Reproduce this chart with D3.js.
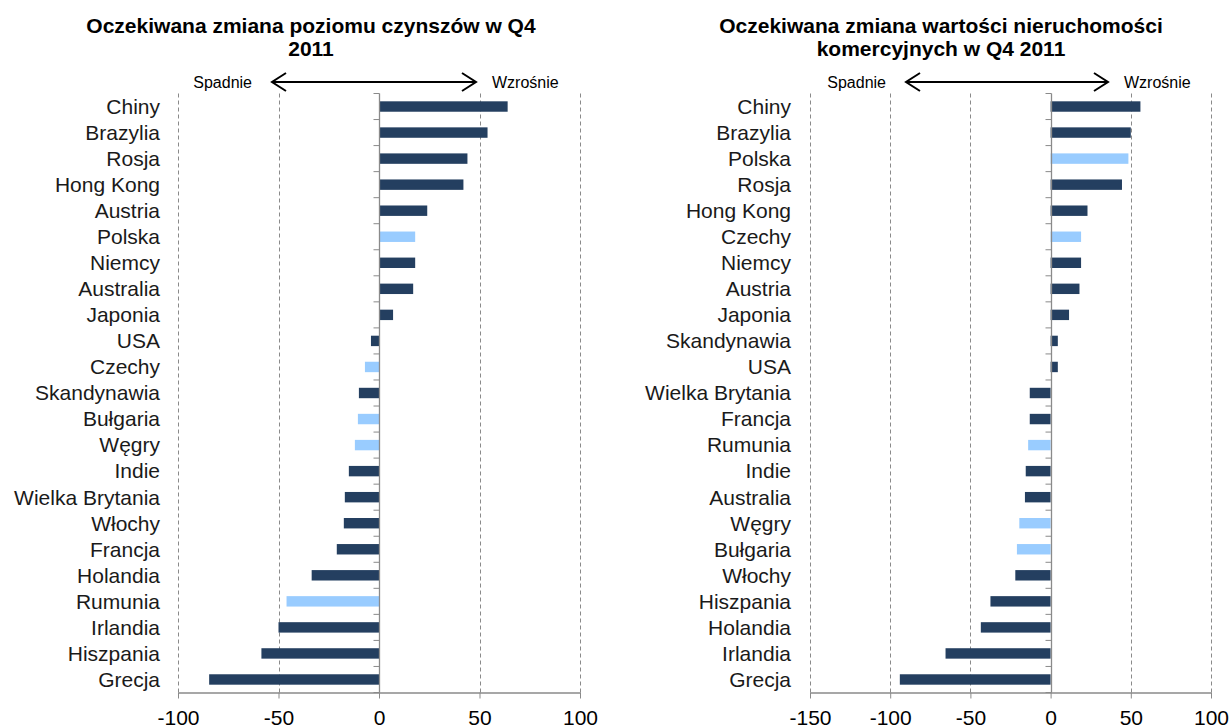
<html>
  <head>
    <title>Oczekiwana zmiana Q4 2011</title>
    <script src="https://d3js.org/d3.v7.min.js"></script>
    <style>
      body { margin: 0; background: #fff; }
      text { font-family: "Liberation Sans", Arial, sans-serif; }
    </style>
  </head>
  <body>
    <div id="wrapper"></div>
    <script>
      // left panel: rents
      var rentCountries = ["Chiny", "Brazylia", "Rosja", "Hong Kong", "Austria", "Polska", "Niemcy",
        "Australia", "Japonia", "USA", "Czechy", "Skandynawia", "Bułgaria", "Węgry", "Indie",
        "Wielka Brytania", "Włochy", "Francja", "Holandia", "Rumunia", "Irlandia", "Hiszpania", "Grecja"];
      var rentValues = [64, 54, 44, 42, 24, 18, 18, 17, 7, -4, -7, -10, -10.5, -12, -15,
        -17, -17.5, -21, -33.5, -46, -50, -58.5, -84.5];
      var rentTicks = [-100, -50, 0, 50, 100];

      // right panel: commercial property values
      var valueCountries = ["Chiny", "Brazylia", "Polska", "Rosja", "Hong Kong", "Czechy", "Niemcy",
        "Austria", "Japonia", "Skandynawia", "USA", "Wielka Brytania", "Francja", "Rumunia", "Indie",
        "Australia", "Węgry", "Bułgaria", "Włochy", "Hiszpania", "Holandia", "Irlandia", "Grecja"];
      var valueValues = [56, 50, 48.5, 44.5, 23, 19, 19, 18, 11.5, 4.5, 4.5, -13, -13, -14, -15.5,
        -16, -19.5, -21, -22, -37.5, -43.5, -65.5, -94];
      var valueTicks = [-150, -100, -50, 0, 50, 100];

      // CEE countries drawn in light blue
      var highlighted = ["Polska", "Czechy", "Bułgaria", "Węgry", "Rumunia"];

      var darkBlue = "#243f60";
      var lightBlue = "#99ccff";
      var axisGrey = "#8a8a8a";

      var plotTop = 93.5;
      var plotBottom = 692.5;

      var svg = d3.select("#wrapper").append("svg")
        .attr("width", 1230)
        .attr("height", 726);

      function drawPanel(p) {
        var x = d3.scaleLinear().domain([p.ticks[0], p.ticks[p.ticks.length - 1]]).range(p.xRange);
        var y = d3.scaleBand().domain(p.countries).range([plotTop, plotBottom])
          .paddingInner(0.6).paddingOuter(0.3);
        var g = svg.append("g");

        // dashed gridlines
        g.selectAll("line.grid").data(p.ticks.filter(function(t) { return t != 0; }))
          .enter().append("line")
          .attr("x1", function(t) { return Math.round(x(t)) + 0.5; })
          .attr("x2", function(t) { return Math.round(x(t)) + 0.5; })
          .attr("y1", plotTop)
          .attr("y2", plotBottom)
          .attr("stroke", axisGrey)
          .attr("stroke-dasharray", "4,3");

        // bars
        g.selectAll("rect").data(p.values)
          .enter().append("rect")
          .attr("x", function(v) { return x(Math.min(0, v)); })
          .attr("width", function(v) { return Math.abs(x(v) - x(0)); })
          .attr("y", function(v, i) { return y(p.countries[i]); })
          .attr("height", y.bandwidth())
          .attr("fill", function(v, i) {
            return highlighted.indexOf(p.countries[i]) >= 0 ? lightBlue : darkBlue;
          });

        // vertical axis at zero with category ticks
        var x0 = Math.round(x(0)) + 0.5;
        g.append("line")
          .attr("x1", x0).attr("x2", x0)
          .attr("y1", plotTop).attr("y2", plotBottom)
          .attr("stroke", axisGrey).attr("stroke-width", 1.3);
        g.selectAll("line.cat").data(d3.range(p.countries.length + 1))
          .enter().append("line")
          .attr("x1", x0 - 6).attr("x2", x0)
          .attr("y1", function(i) { return plotTop + i * y.step(); })
          .attr("y2", function(i) { return plotTop + i * y.step(); })
          .attr("stroke", axisGrey);

        // bottom axis, plain hyphen for negatives like the original
        var axis = g.append("g")
          .attr("transform", "translate(0," + plotBottom + ")")
          .call(d3.axisBottom(x).tickValues(p.ticks).tickSize(6).tickSizeOuter(0).tickPadding(12)
            .tickFormat(function(d) { return String(d); }));
        axis.select(".domain").attr("stroke", axisGrey).attr("stroke-width", 1.3);
        axis.selectAll(".tick line").attr("stroke", axisGrey);
        axis.selectAll(".tick text")
          .attr("fill", "#000")
          .style("font-size", "21px")
          .style("font-family", "'Liberation Sans', Arial, sans-serif");

        // category labels
        g.selectAll("text.cat").data(p.countries)
          .enter().append("text")
          .attr("x", p.labelX)
          .attr("y", function(c) { return y(c) + y.bandwidth() / 2; })
          .attr("dy", "0.35em")
          .attr("text-anchor", "end")
          .attr("fill", "#1a1a1a")
          .style("font-size", "21px")
          .text(function(c) { return c; });

        // title
        g.selectAll("text.title").data(p.title)
          .enter().append("text")
          .attr("x", p.titleX)
          .attr("y", function(t, i) { return 33 + i * 23; })
          .attr("text-anchor", "middle")
          .style("font-size", "21px")
          .style("font-weight", "bold")
          .text(function(t) { return t; });

        // direction arrow
        var ay = 82;
        g.append("text").attr("x", p.arrow[0] - 20).attr("y", ay).attr("dy", "0.35em")
          .attr("text-anchor", "end").style("font-size", "16px").text("Spadnie");
        g.append("text").attr("x", p.arrow[1] + 16).attr("y", ay).attr("dy", "0.35em")
          .style("font-size", "16px").text("Wzrośnie");
        var a = p.arrow[0], b = p.arrow[1];
        g.append("path")
          .attr("d", "M" + a + "," + ay + "L" + b + "," + ay +
                     "M" + (a + 14) + "," + (ay - 9) + "L" + a + "," + ay + "L" + (a + 14) + "," + (ay + 9) +
                     "M" + (b - 14) + "," + (ay - 9) + "L" + b + "," + ay + "L" + (b - 14) + "," + (ay + 9))
          .attr("fill", "none")
          .attr("stroke", "#000")
          .attr("stroke-width", 2);
      }

      drawPanel({
        countries: rentCountries,
        values: rentValues,
        ticks: rentTicks,
        xRange: [178, 580],
        labelX: 160,
        title: ["Oczekiwana zmiana poziomu czynszów w Q4", "2011"],
        titleX: 311,
        arrow: [272, 476]
      });

      drawPanel({
        countries: valueCountries,
        values: valueValues,
        ticks: valueTicks,
        xRange: [810, 1211],
        labelX: 791,
        title: ["Oczekiwana zmiana wartości nieruchomości", "komercyjnych  w Q4 2011"],
        titleX: 941,
        arrow: [906, 1108]
      });
    </script>
  </body>
</html>
